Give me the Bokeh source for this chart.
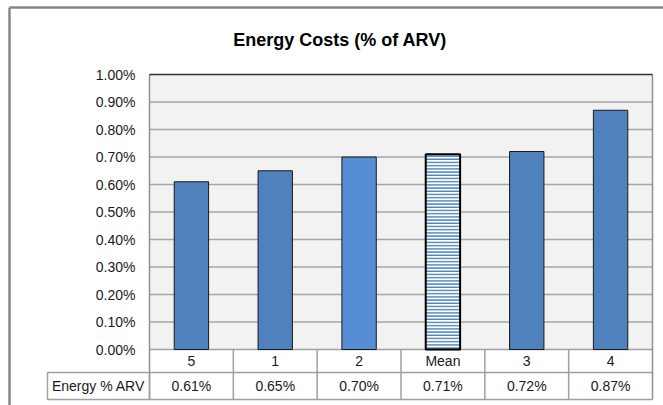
from bokeh.plotting import figure
from bokeh.models import Range1d, ColumnDataSource
from bokeh.core.properties import value
from bokeh.embed import file_html
from bokeh.resources import INLINE

# ---- data ----
categories = ["5", "1", "2", "Mean", "3", "4"]
energy_pct = [0.61, 0.65, 0.70, 0.71, 0.72, 0.87]
bar_colors = ["#4f81bd", "#4f81bd", "#558ed5", "#ffffff", "#4f81bd", "#4f81bd"]
y_ticks = [0.0, 0.1, 0.2, 0.3, 0.4, 0.5, 0.6, 0.7, 0.8, 0.9, 1.0]
row_label = "Energy % ARV"
title_text = "Energy Costs  (% of ARV)"

value_labels = [f"{v:.2f}%" for v in energy_pct]
tick_labels = [f"{t:.2f}%" for t in y_ticks]

FONT = "Liberation Sans"
TXT = "#1a1a1a"
GRID = "#a6a6a6"
n = len(categories)
xs = [i + 0.5 for i in range(n)]

# scale: one category = px_x pixels, 1% = px_y pixels
W, H = 663, 405
PL, PR, PT, PB = 149, 652, 74, 349   # plot area edges on the canvas
px_x = (PR - PL) / n
px_y = float(PB - PT)
x0 = -PL / px_x
x1 = n + (W - PR) / px_x
y_top = 1.0 + PT / px_y
y_min = -(H - PB) / px_y
row_mid = -(23 / px_y)
tbl_bot = -(50 / px_y)

p = figure(width=W, height=H, output_backend="svg", toolbar_location=None,
           x_range=Range1d(x0, x1), y_range=Range1d(y_min, y_top),
           min_border=0, x_axis_location=None, y_axis_location=None)
p.background_fill_color = "white"
p.border_fill_color = "white"
p.outline_line_color = None
p.xgrid.grid_line_color = None
p.ygrid.grid_line_color = None

# plot area background
p.quad(left=0, right=n, bottom=0, top=1.0, fill_color="#f2f2f2", line_color=None)

# horizontal gridlines
inner = y_ticks[1:-1]
p.segment(x0=[0] * len(inner), x1=[n] * len(inner), y0=inner, y1=inner, line_color=GRID, line_width=1.5)

# table lines
p.segment(x0=[0, 0, 0], x1=[n, n, n], y0=[0, row_mid, tbl_bot], y1=[0, row_mid, tbl_bot],
          line_color="#a0a0a0", line_width=1.5)
p.segment(x0=list(range(1, n)), x1=list(range(1, n)), y0=[0] * (n - 1), y1=[tbl_bot] * (n - 1),
          line_color="#a0a0a0", line_width=1.5)
# plot area sides
p.segment(x0=[0, n], x1=[0, n], y0=[tbl_bot, tbl_bot], y1=[1.0, 1.0], line_color="#909090", line_width=1.5)
# top border
p.segment(x0=[0], x1=[n], y0=[1.0], y1=[1.0], line_color="#303030", line_width=1.5)

# row label cell
left_cell = -(102 / px_x)
p.quad(left=left_cell, right=0, bottom=tbl_bot, top=row_mid, fill_color=None,
       line_color="#a0a0a0", line_width=1.5)

# bars
solid = [i for i in range(n) if categories[i] != "Mean"]
src = ColumnDataSource(dict(x=[xs[i] for i in solid], top=[energy_pct[i] for i in solid],
                            c=[bar_colors[i] for i in solid]))
p.vbar(x="x", top="top", width=0.41, source=src, fill_color="c", line_color="#1a1a1a", line_width=1)
mi = categories.index("Mean")
p.vbar(x=[xs[mi]], top=[energy_pct[mi]], width=0.41, fill_color=bar_colors[mi],
       hatch_pattern="horizontal_line", hatch_color="#4f81bd", hatch_scale=3.2, hatch_weight=1.6,
       line_color="black", line_width=2)

# y tick labels
p.text(x=[-14 / px_x] * len(y_ticks), y=y_ticks, text=tick_labels, text_align="right",
       text_baseline="middle", text_font=value(FONT), text_font_size="14px", text_color=TXT)

# table text
p.text(x=xs, y=[row_mid / 2] * n, text=categories, text_align="center", text_baseline="middle",
       text_font=value(FONT), text_font_size="14px", text_color=TXT)
p.text(x=xs, y=[(row_mid + tbl_bot) / 2] * n, text=value_labels, text_align="center",
       text_baseline="middle", text_font=value(FONT), text_font_size="14px", text_color=TXT)
p.text(x=[left_cell / 2], y=[(row_mid + tbl_bot) / 2], text=[row_label], text_align="center",
       text_baseline="middle", text_font=value(FONT), text_font_size="14px", text_color=TXT)

# title
p.text(x=[(342 - PL) / px_x], y=[1.0 + (PT - 39) / px_y], text=[title_text], text_align="center",
       text_baseline="middle", text_font=value(FONT), text_font_size="18px", text_font_style="bold",
       text_color="black")

# outer chart border (left and top visible)
bx = x0 + 9 / px_x
by = y_top - 7 / px_y
p.segment(x0=[bx, bx], x1=[bx, x1], y0=[y_min, by], y1=[by, by], line_color="#878787", line_width=2.5)

open("out.html", "w").write(file_html(p, INLINE))
